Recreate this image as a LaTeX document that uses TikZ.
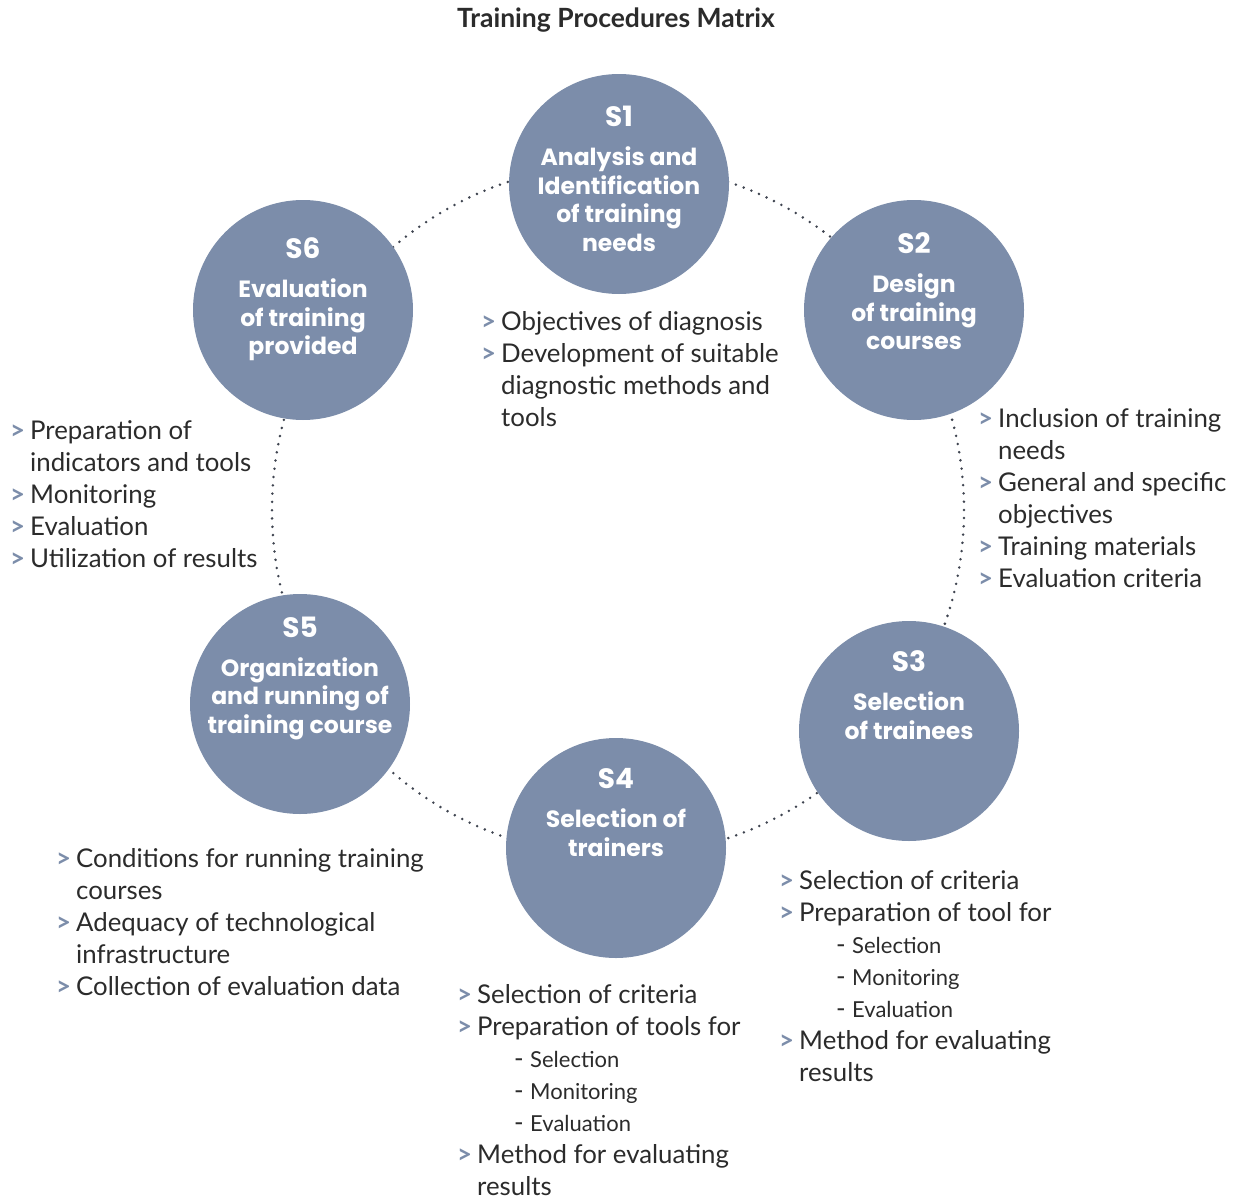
\documentclass[tikz,border=0pt]{standalone}
\usepackage{fontspec}
\setmainfont{Lato}
\newfontfamily\headfont{Poppins}

\definecolor{slate}{HTML}{7C8DAA}
\definecolor{ink}{HTML}{2B2B2B}
\definecolor{dotgray}{HTML}{3F4450}

\newcommand{\itm}{\makebox[20pt][l]{\textcolor{slate}{\bfseries >}}}
\newcommand{\ind}{\hspace*{20pt}}
\newcommand{\subitm}[1]{\hspace*{57pt}\makebox[16pt][l]{-}{\fontsize{22}{32}\selectfont #1}}
\newcommand{\stagenum}[1]{{\fontsize{28}{28.5}\selectfont #1}}

\begin{document}
\begin{tikzpicture}[x=1pt, y=-1pt,
	stage/.style={ circle, fill=slate, inner sep=0pt, minimum size=220pt },
	stagetext/.style={ anchor=north, align=center, text=white, inner sep=0pt, font=\headfont\bfseries\fontsize{23.5}{28.5}\selectfont },
	orbit/.style={ circle, draw=dotgray, line width=2.8pt, line cap=round, dash pattern=on 0pt off 8.3pt, inner sep=0pt, minimum size=692pt },
	notes/.style={ anchor=north west, align=left, inner sep=0pt, text=ink, font=\fontsize{25.8}{32}\selectfont }
]
\useasboundingbox (0,0) rectangle (1236,1199);

\node at (616,20) (title) [text=ink, font=\bfseries\fontsize{26.5}{28}\selectfont] {Training Procedures Matrix};

% dotted ring, the stages sit on top of it
\node at (618,510) (ring) [orbit] {};

\node at (619,184) (s1) [stage] {};
\node at (914,310) (s2) [stage] {};
\node at (909,731) (s3) [stage] {};
\node at (616,848) (s4) [stage] {};
\node at (300,704) (s5) [stage] {};
\node at (303,310) (s6) [stage] {};

\node at ([yshift=78pt]s1.center) (t1) [stagetext] {\stagenum{S1}\\[10.5pt]Analysis and\\Identification\\of training\\needs};
\node at ([yshift=77.5pt]s2.center) (t2) [stagetext] {\stagenum{S2}\\[10.5pt]Design\\of training\\courses};
\node at ([yshift=80.5pt]s3.center) (t3) [stagetext] {\stagenum{S3}\\[10.5pt]Selection\\of trainees};
\node at ([yshift=79.5pt]s4.center) (t4) [stagetext] {\stagenum{S4}\\[10.5pt]Selection of\\trainers};
\node at ([yshift=87.5pt]s5.center) (t5) [stagetext] {\stagenum{S5}\\[10.5pt]Organization\\and running of\\training course};
\node at ([yshift=72.5pt]s6.center) (t6) [stagetext] {\stagenum{S6}\\[10.5pt]Evaluation\\of training\\provided};

% what each stage covers
\node at (481,311) (l1) [notes] {\itm Objectives of diagnosis\\ \itm Development of suitable\\ \ind diagnostic methods and\\ \ind tools};
\node at (978,408) (l2) [notes] {\itm Inclusion of training\\ \ind needs\\ \itm General and specific\\ \ind objectives\\ \itm Training materials\\ \itm Evaluation criteria};
\node at (779,870) (l3) [notes] {\itm Selection of criteria\\ \itm Preparation of tool for\\ \subitm{Selection}\\ \subitm{Monitoring}\\ \subitm{Evaluation}\\ \itm Method for evaluating\\ \ind results};
\node at (457,984) (l4) [notes] {\itm Selection of criteria\\ \itm Preparation of tools for\\ \subitm{Selection}\\ \subitm{Monitoring}\\ \subitm{Evaluation}\\ \itm Method for evaluating\\ \ind results};
\node at (56,848) (l5) [notes] {\itm Conditions for running training\\ \ind courses\\ \itm Adequacy of technological\\ \ind infrastructure\\ \itm Collection of evaluation data};
\node at (10,420) (l6) [notes] {\itm Preparation of\\ \ind indicators and tools\\ \itm Monitoring\\ \itm Evaluation\\ \itm Utilization of results};

\end{tikzpicture}
\end{document}
